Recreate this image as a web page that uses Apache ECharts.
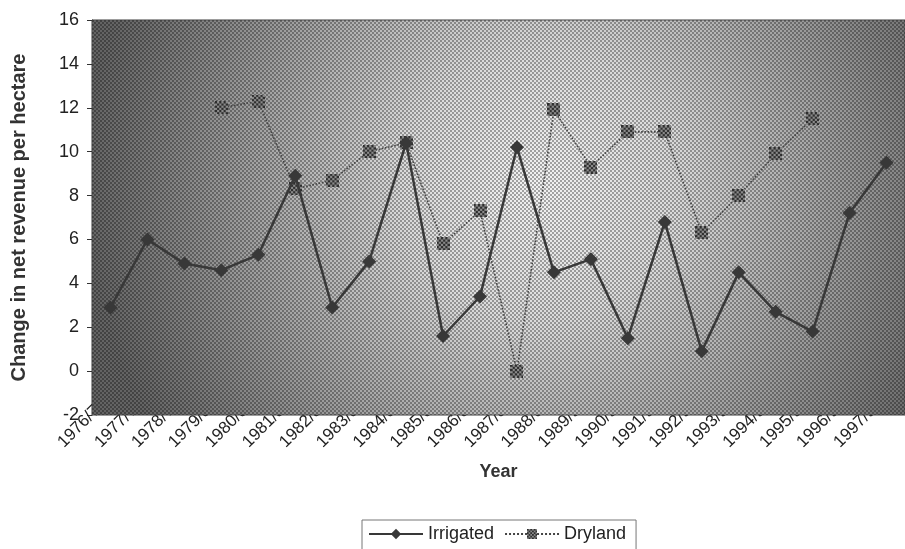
<!DOCTYPE html>
<html>
<head>
<meta charset="utf-8">
<script src="https://cdn.jsdelivr.net/npm/echarts@6/dist/echarts.min.js"></script>
<style>
  html, body { margin: 0; padding: 0; background: #fff; }
  #chart { width: 905px; height: 549px; }
</style>
</head>
<body>
<div id="chart"></div>
<script>
const years = ['1976/77', '1977/78', '1978/79', '1979/80', '1980/81', '1981/82', '1982/83', '1983/84',
    '1984/85', '1985/86', '1986/87', '1987/88', '1988/89', '1989/90', '1990/91', '1991/92',
    '1992/93', '1993/94', '1994/95', '1995/96', '1996/97', '1997/98'];
const irrigated = [2.9, 6.0, 4.9, 4.6, 5.3, 8.9, 2.9, 5.0, 10.4, 1.6, 3.4, 10.2, 4.5, 5.1,
    1.5, 6.8, 0.9, 4.5, 2.7, 1.8, 7.2, 9.5];
const dryland = [null, null, null, 12.0, 12.3, 8.3, 8.7, 10.0, 10.4, 5.8, 7.3, 0.0, 11.9, 9.3,
    10.9, 10.9, 6.3, 8.0, 9.9, 11.5, null, null];
const yTicks = { min: -2, max: 16, step: 2 };

const font = "'Liberation Sans', Arial, sans-serif";
const plot = { left: 92, top: 20, right: 905, bottom: 415 };

// little checker images: dryland marker and halftone texture
function checker(size, cell, dark, light) {
    const c = document.createElement('canvas');
    c.width = size; c.height = size;
    const g = c.getContext('2d');
    g.fillStyle = light;
    g.fillRect(0, 0, size, size);
    g.fillStyle = dark;
    for (let y = 0; y < size; y += cell) {
        for (let x = 0; x < size; x += cell) {
            if (((x + y) / cell) % 2 === 0) g.fillRect(x, y, cell, cell);
        }
    }
    return c;
}
const markImg = checker(12, 2, '#2e2e2e', '#8a8a8a').toDataURL();
const texture = checker(4, 2, 'rgba(0,0,0,0.32)', 'rgba(255,255,255,0.14)');

const chart = echarts.init(document.getElementById('chart'));
chart.setOption({
    animation: false,
    textStyle: { fontFamily: font },
    grid: {
        left: plot.left, top: plot.top, right: 905 - plot.right, bottom: 549 - plot.bottom,
        containLabel: false
    },
    graphic: [
        {
            type: 'rect', z: 1, silent: true,
            shape: { x: plot.left, y: plot.top, width: plot.right - plot.left, height: plot.bottom - plot.top },
            style: {
                fill: new echarts.graphic.RadialGradient(0.55, 0.42, 1.15, [
                    { offset: 0, color: '#f0f0f0' },
                    { offset: 0.3, color: '#d4d4d4' },
                    { offset: 0.62, color: '#959595' },
                    { offset: 1, color: '#4a4a4a' }
                ]),
                stroke: '#3a3a3a', lineWidth: 1
            }
        },
        {
            type: 'rect', z: 1, silent: true,
            shape: { x: plot.left, y: plot.top, width: plot.right - plot.left, height: plot.bottom - plot.top },
            style: { fill: { image: texture, repeat: 'repeat' } }
        }
    ],
    legend: {
        top: 520, left: 362,
        data: ['Irrigated', 'Dryland'],
        itemWidth: 54, itemHeight: 13, itemGap: 10,
        padding: [5, 10, 10, 6],
        borderColor: '#777', borderWidth: 1,
        textStyle: { fontFamily: font, fontSize: 18, color: '#222' }
    },
    xAxis: {
        type: 'category',
        data: years,
        z: 0,
        name: 'Year', nameLocation: 'middle', nameGap: 48,
        nameTextStyle: { fontFamily: font, fontSize: 18, fontWeight: 'bold', color: '#333' },
        axisLine: { show: false },
        axisTick: { show: false },
        axisLabel: {
            rotate: 45, margin: -20, padding: [0, 9, 0, 0],
            fontSize: 17, color: '#222', interval: 0, fontFamily: font
        }
    },
    yAxis: {
        type: 'value',
        min: yTicks.min, max: yTicks.max, interval: yTicks.step,
        z: 0,
        name: 'Change in net revenue per hectare', nameLocation: 'middle', nameGap: 63, nameRotate: 90,
        nameTextStyle: { fontFamily: font, fontSize: 20, fontWeight: 'bold', color: '#333' },
        axisLine: { show: true, lineStyle: { color: '#333', width: 1 } },
        axisTick: { show: true, length: 5, lineStyle: { color: '#333' } },
        splitLine: { show: false },
        axisLabel: { fontSize: 18, color: '#222', margin: 13, fontFamily: font }
    },
    series: [
        {
            name: 'Irrigated', type: 'line', z: 3,
            data: irrigated,
            symbol: 'diamond', symbolSize: 14,
            itemStyle: { color: '#383838' },
            lineStyle: { color: '#383838', width: 2.5 }
        },
        {
            name: 'Dryland', type: 'line', z: 2,
            data: dryland,
            symbol: 'image://' + markImg, symbolSize: 13,
            itemStyle: { color: '#555' },
            lineStyle: { color: '#444', width: 1.6, type: 'dotted' }
        }
    ]
});
</script>
</body>
</html>
